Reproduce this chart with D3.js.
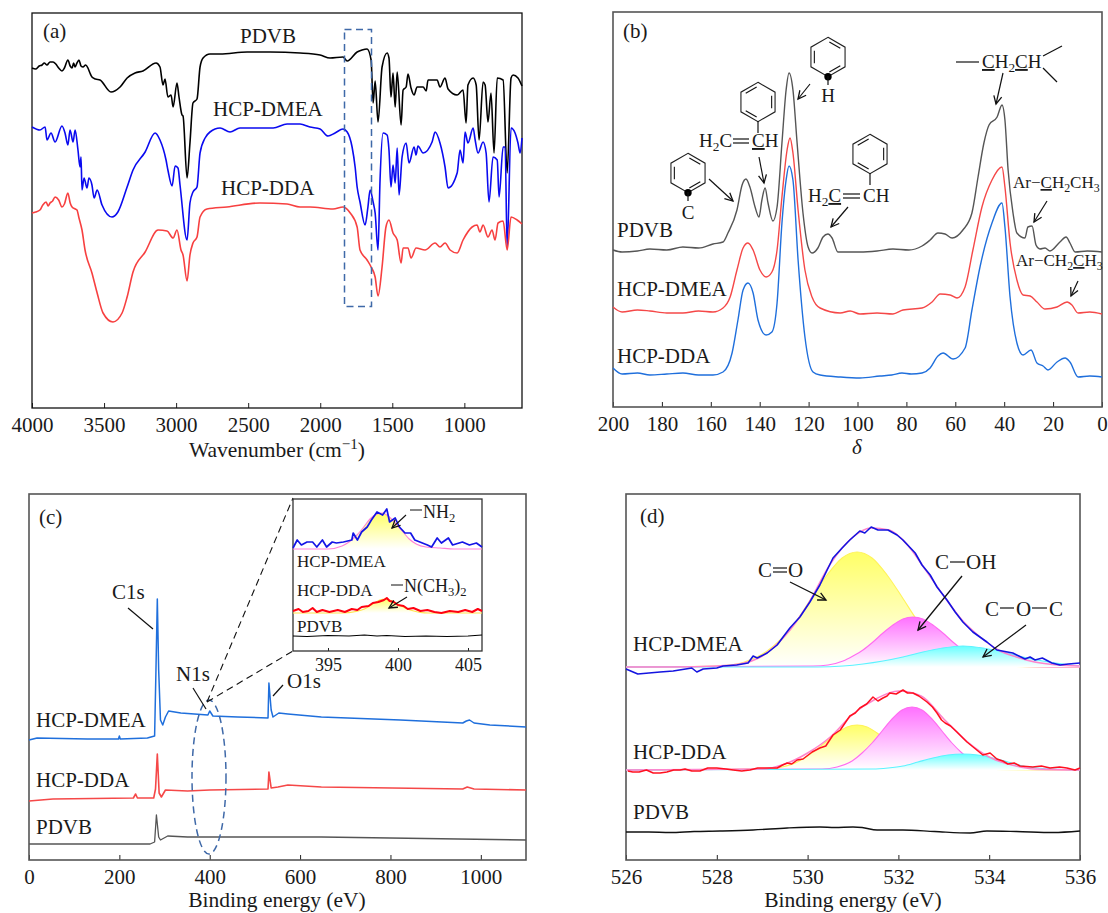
<!DOCTYPE html>
<html>
<head>
<meta charset="utf-8">
<script src="https://cdn.jsdelivr.net/npm/d3@7"></script>
<style>
html, body { margin: 0; padding: 0; background: #fff; }
svg { display: block; }
text { font-family: "Liberation Serif", serif; fill: #1a1a1a; }
</style>
</head>
<body>
<div id="chart"></div>
<script>
// (a) FTIR
const ftirPdvbX = [4000,3975,3950,3930,3915,3896,3875,3854,3835,3815,3792,3775,3751,3735,3722,3711,3701,3688,3674,3660,3646,3628,3612,3598,3584,3560,3528,3452,3389,3340,3285,3230,3139,3112,3091,3077,3057,3035,3021,2994,2980,2959,2952,2924,2904,2883,2855,2834,2813,2765,2695,2507,2348,2140,2001,1932,1842,1813,1744,1710,1675,1647,1633,1619,1599,1571,1536,1523,1509,1495,1480,1466,1439,1425,1404,1391,1370,1349,1328,1286,1265,1252,1189,1169,1134,1113,1050,1009,988,975,939,918,898,870,856,836,815,794,772,731,703,676,662,628,600];
const ftirPdvbY = [340,339,342,343,345,343,346,346,344,340,337,340,348,342,340,345,341,345,348,342,341,343,340,335,331,329,328,316,321,330,335,337,345,341,323,329,311,313,301,325,311,293,292,230,265,305,309,341,350,354,354,356,356,355,353,350,351,347,356,358,359,348,305,327,286,341,355,350,311,335,301,336,283,318,321,334,320,313,321,321,317,328,328,321,330,319,313,318,285,323,330,323,268,326,323,286,315,255,330,328,235,330,333,330,322];
const ftirDmeaX = [4000,3945,3909,3896,3868,3840,3792,3771,3751,3736,3715,3701,3681,3667,3660,3653,3639,3618,3605,3584,3569,3548,3514,3445,3404,3340,3299,3215,3146,3112,3070,3057,3028,3007,2987,2973,2924,2904,2883,2855,2834,2799,2765,2695,2626,2557,2418,2327,2230,2140,2071,2001,1946,1897,1842,1813,1779,1758,1744,1724,1689,1669,1654,1633,1619,1599,1585,1564,1536,1523,1509,1495,1480,1466,1453,1432,1404,1384,1349,1335,1322,1286,1224,1203,1169,1134,1113,1050,1030,1009,995,975,939,925,905,870,849,829,801,772,759,731,717,703,676,648,628,613,600];
const ftirDmeaY = [281,278,281,268,275,266,282,275,263,278,266,278,258,241,251,218,230,220,230,223,210,218,203,191,196,221,238,256,275,268,248,238,222,242,240,223,168,205,216,221,255,270,276,280,276,280,280,280,284,284,281,279,272,275,279,276,261,241,221,206,183,201,218,206,195,158,228,275,273,258,221,243,225,260,213,251,265,245,261,253,262,255,266,276,265,241,220,235,258,245,276,265,280,268,255,266,255,206,251,248,211,261,261,160,280,275,265,255,270];
const ftirDdaX = [4000,3975,3945,3925,3902,3888,3875,3857,3840,3815,3792,3775,3751,3735,3722,3700,3688,3674,3653,3632,3584,3548,3507,3438,3375,3340,3299,3215,3125,3063,3021,2994,2966,2952,2924,2904,2883,2855,2834,2786,2647,2418,2230,2140,2071,1911,1842,1792,1744,1724,1675,1647,1619,1599,1571,1544,1523,1495,1466,1439,1425,1391,1370,1335,1273,1203,1169,1134,1099,1050,1009,946,912,892,870,836,808,787,766,731,703,676,634,600];
const ftirDdaY = [195,196,198,203,206,202,205,207,211,208,201,204,215,205,201,199,198,190,178,158,135,115,95,86,95,111,136,156,178,177,170,178,158,153,127,153,165,171,191,199,201,205,204,201,201,199,201,195,181,158,148,141,131,112,141,181,188,175,168,145,160,160,150,160,158,165,161,165,158,155,168,181,183,176,183,171,178,168,185,187,158,191,188,184];
const ftirTicks = [4000,3500,3000,2500,2000,1500,1000];

// (b) 13C NMR
const nmrPdvbX = [200,196.3,190,184.9,178,171.4,165,159.1,155,153,149.3,147.2,145.6,144,141.9,140.3,139.1,137.8,136.6,134.6,132.9,130.9,129.2,128,126.4,124.7,122.3,120.2,118.6,116.2,114.1,112.1,110.4,108,99,92,85.5,79,73.6,70.3,67.1,64.2,61.3,56.9,53.2,50.7,48.3,46.2,42.9,40.9,39.7,38.4,36.4,34.8,31.5,30.3,28.6,27,25.4,23.3,21.3,17.2,14.7,13.1,11,6,0];
const nmrPdvbY = [157,155,156,158,157,160,159,163,165,174,197,222,228,220,200,190,207,219,204,186,200,264,317,334,317,264,194,160,154,159,170,173,169,155,155,156,158,157,161,167,174,173,169,177,194,230,264,282,290,302,287,237,194,174,169,180,181,162,158,159,156,165,170,164,155,156,155];
const nmrDmeaX = [200,196.3,190,184.9,178,171.4,165,159.1,155,152.1,149.3,146.8,144.8,142.7,139.9,137.4,135,132.9,130.9,128.8,127.6,126.4,124.3,121.5,118.6,115.3,107.1,103,99,92,85.5,81.4,73.6,69.5,66.2,62.1,59.3,56,52.8,49.1,45,40.9,39.7,37.6,34.8,32.3,29.4,26.6,23.3,18.4,14.3,12.3,9.8,5,0];
const nmrDmeaY = [100,95,97,96,94,94,96,95,99,110,137,159,164,157,137,130,135,157,210,257,269,254,197,137,110,99,94,96,93,94,93,97,99,105,113,112,109,120,157,200,227,240,220,164,127,112,111,105,98,100,105,102,94,95,93];
const nmrDdaX = [200,196.3,190,184.9,178,171.4,165,159.1,155,151.3,148.9,146.8,144.8,142.7,140.7,137.4,135,132.9,130.9,129.2,128,126.4,124.3,121.5,118.2,115.3,107.1,99,90.8,86,81.8,78,73.6,70.3,67.1,65,60.9,56,53.2,49.9,45,40.9,39.7,37.6,34.8,32.3,29,26.6,24.1,22.1,18.4,15.1,13.1,9.8,5,0];
const nmrDdaY = [39,33,34,32,33,34,32,32,35,54,87,117,124,114,87,72,75,104,184,227,241,227,147,70,35,32,30,29,31,32,34,33,34,39,51,54,48,59,97,140,184,204,180,110,64,52,57,44,41,37,45,49,45,30,31,30];
const nmrTicks = [200,180,160,140,120,100,80,60,40,20,0];

// (c) XPS survey
const surveyDmeaX = [0,18,129,198,200,202,262,278,281,284,287,291,296,302,309,336,396,400,407,462,529,531,536,540,553,573,647,822,960,968,975,985,1020,1100];
const surveyDmeaY = [119,121,120,120,123,120,121,123,189,260,189,139,134,142,148,146,144,148,143,142,141,176,149,142,146,145,142,139,136,138,139,136,134,132];
const surveyDdaX = [0,53,231,236,240,276,280,284,288,293,302,351,400,529,531,536,551,573,647,960,970,985,1100];
const surveyDdaY = [58,60,61,65,61,61,70,105,66,62,69,68,69,70,87,71,72,74,72,70,72,70,69];
const surveyPdvbX = [0,268,278,282,287,291,307,351,573,647,1100];
const surveyPdvbY = [15,15,17,44,22,19,23,22,22,22,19];
const surveyTicks = [0,200,400,600,800,1000];

// (c) inset, N1s
const n1sDmeaX = [392.5,392.8,393.1,393.5,393.9,394.2,394.6,394.9,395.3,395.6,396.1,396.7,396.8,397.1,397.4,397.8,398.1,398.5,398.9,399.2,399.4,399.8,400.1,400.5,400.9,401.2,402.1,402.4,402.8,403.1,403.6,403.9,404.6,405.1,405.6,406];
const n1sDmeaY = [103,111,106,109,109,104,111,104,109,108,109,111,118,111,119,124,131,139,136,142,129,133,124,118,118,111,106,104,113,108,113,106,109,106,108,104];
const n1sDmeaFitX = [392.5,395,396,396.5,397,397.5,398,398.5,398.9,399.3,399.8,400.3,400.8,401.3,402,403,404,406];
const n1sDmeaFitY = [102,102,105,109,115,123,132,137,138,135,128,120,112,107,104,103,102,102];
const n1sDdaX = [392.5,392.9,393.2,393.6,393.9,394.2,394.6,395.1,395.7,396.2,396.7,397.1,397.4,397.9,398.2,398.6,399,399.2,399.4,399.7,400,400.4,400.7,401.1,401.6,402.1,402.6,403.1,403.7,404.3,404.8,405.3,405.7,406];
const n1sDdaY = [40,42,39,40,43,39,41,39,41,39,42,41,44,45,48,49,51,53,50,49,46,45,42,43,40,41,39,38,40,39,41,39,42,40];
const n1sDdaFitX = [392.5,396,397,397.6,398.2,398.7,399.1,399.6,400,400.5,401,401.6,402.2,406];
const n1sDdaFitY = [38,38,39.5,42,47,51,52,50,47,43,40.5,38.5,38,38];
const n1sPdvbX = [392.5,393.5,395,396.5,397.6,398.5,399.2,400.5,402,403.5,405,406];
const n1sPdvbY = [15,14.5,15.5,15,16,15,15.5,14.5,15,14.5,15,16];
const n1sTicks = [395,400,405];

// (d) O1s
const o1sDmeaX = [526,526.26,526.75,527.04,527.45,527.56,527.7,528,528.14,528.44,528.69,528.8,528.89,529.11,529.33,529.46,529.61,529.83,530.05,530.27,530.43,530.56,530.76,530.93,531.15,531.26,531.4,531.55,531.77,531.97,532.1,532.37,532.52,532.7,532.85,533.07,533.25,533.42,533.64,533.95,534.17,534.52,534.79,534.9,535.01,535.17,535.38,535.56,535.74,536];
const o1sDmeaY = [190,185,187,188,191,187,190,191,193,194,196,203,201,206,214,222,231,242,257,274,289,301,311,319,328,326,332,329,329,324,319,306,294,284,272,259,247,237,227,217,209,206,200,202,199,201,196,194,195,196];
const o1sDmeaFitX = [526,527,528,528.5,529,529.5,530,530.5,531,531.4,531.8,532.2,532.6,533,533.4,533.8,534.2,534.6,535,535.5,536];
const o1sDmeaFitY = [192,192,193,195,203,223,254,295,322,331,329,314,289,263,239,222,209,202,197,194,193];
const o1sDmeaCoX = [526,528,528.45,528.78,529.11,529.44,529.77,530.1,530.43,530.76,531.09,531.42,531.75,532.08,532.41,532.74,533.07,533.4,533.73,534.18,536];
const o1sDmeaCoY = [192,193,195,200,208,221,239,262,284,301,307,301,284,262,239,221,208,200,195,193,192];
const o1sDmeaCohX = [526,530.12,530.45,530.78,531,531.22,531.44,531.66,531.88,532.1,532.32,532.54,532.76,532.98,533.2,533.42,533.64,533.86,534.19,534.52,536];
const o1sDmeaCohY = [192,193,194,198,203,209,217,226,234,240,242,240,234,226,217,209,203,198,194,193,192];
const o1sDmeaCocX = [526,530.23,530.78,531.22,531.66,532.1,532.54,532.98,533.42,533.86,534.3,534.74,535.18,535.62,536];
const o1sDmeaCocY = [192,192,193,195,198,202,207,211,213,211,207,202,198,195,193];

const o1sDdaX = [526.04,526.15,526.29,526.45,526.6,526.75,526.9,527.05,527.19,527.3,527.45,527.63,527.8,528,528.2,528.36,528.55,528.73,528.9,529.11,529.33,529.45,529.55,529.65,529.77,529.9,530.1,530.27,530.4,530.56,530.72,530.93,531.05,531.15,531.3,531.44,531.55,531.66,531.75,531.81,531.95,532.1,532.2,532.32,532.45,532.63,532.75,532.85,532.95,533.03,533.15,533.29,533.4,533.51,533.7,533.86,534.02,534.17,534.3,534.41,534.55,534.68,534.96,535.15,535.34,535.55,535.71,535.89,536];
const o1sDdaY = [88,87,87,89,86,86,87,89,89,90,88,88,91,91,90,89,88,89,91,91,91,94,96,95,99,100,107,111,113,124,129,143,146,151,155,162,158,161,163,166,165,169,166,166,163,157,152,146,139,136,133,127,122,117,110,104,106,100,98,95,96,93,92,93,91,92,91,89,91];
const o1sDdaFitX = [526,529,529.5,530,530.5,531,531.5,532,532.5,533,533.5,534,534.5,535,536];
const o1sDdaFitY = [89,90,95,106,122,145,160,168,163,140,118,102,94,90,89];
const o1sDdaCoX = [526,529.11,529.44,529.77,529.99,530.21,530.43,530.65,530.87,531.09,531.31,531.53,531.75,531.97,532.19,532.41,532.74,533.07,536];
const o1sDdaCoY = [89,90,92,97,103,110,118,126,132,134,132,126,118,110,103,97,92,90,89];
const o1sDdaCohX = [526,530.32,530.65,530.98,531.2,531.42,531.64,531.86,532.08,532.3,532.52,532.74,532.96,533.18,533.4,533.62,533.95,534.28,536];
const o1sDdaCohY = [89,90,92,98,106,116,128,140,149,152,149,140,128,116,106,98,92,90,89];
const o1sDdaCocX = [526,531.44,531.77,532.1,532.43,532.76,533.09,533.42,533.75,534.08,534.41,534.74,535.07,535.4,536];
const o1sDdaCocY = [89,90,91,93,97,101,104,105,104,101,97,93,91,90,89];

const o1sPdvbX = [526,526.5,526.97,527.5,528.07,528.8,529.55,530.27,530.6,531,531.2,531.53,532.1,532.8,533.58,533.95,534.6,535.41,536];
const o1sPdvbY = [27,27,26.5,27.5,28,29,31,32,31.5,32,31.5,29,29,27.5,26,28,27.5,26.5,28];
const o1sTicks = [526,528,530,532,534,536];

const svg = d3.select('#chart').append('svg').attr('width', 1108).attr('height', 913);
const defs = svg.append('defs');

defs.append('marker').attr('id', 'head').attr('markerUnits', 'userSpaceOnUse')
  .attr('viewBox', '-10 -6 12 12').attr('refX', 0).attr('refY', 0)
  .attr('markerWidth', 12).attr('markerHeight', 12).attr('orient', 'auto')
  .append('path').attr('d', 'M-8,-4 L0,0 L-8,4').attr('fill', 'none').attr('stroke', '#111').attr('stroke-width', 1.3);

function gradient(id, color) {
  let g = defs.append('linearGradient').attr('id', id).attr('x1', 0).attr('y1', 0).attr('x2', 0).attr('y2', 1);
  g.append('stop').attr('offset', '0%').attr('stop-color', color);
  g.append('stop').attr('offset', '100%').attr('stop-color', '#fff');
}
gradient('gYellow', '#ffff66');
gradient('gMagenta', '#ff70ff');
gradient('gCyan', '#66ffff');

function frame(x, y, tickVals, size, pad, tick, color, width) {
  let [l, r] = x.range(), [b, t] = y.range();
  let g = svg.append('g').attr('transform', `translate(0,${b})`)
    .call(d3.axisBottom(x).tickValues(tickVals).tickSizeInner(-tick).tickSizeOuter(0).tickPadding(pad).tickFormat(d3.format('d')));
  g.select('.domain').remove();
  g.selectAll('line').attr('stroke', '#222').attr('stroke-width', 1);
  g.selectAll('text').attr('font-size', size).attr('font-family', '"Liberation Serif", serif').attr('fill', '#1a1a1a');
  svg.append('rect').attr('x', l).attr('y', t).attr('width', r - l).attr('height', b - t)
    .attr('fill', 'none').attr('stroke', color).attr('stroke-width', width);
}

function curve(x, y, xs, ys, color, width, kind) {
  let line = d3.line().x(i => x(xs[i])).y(i => y(ys[i])).curve(kind || d3.curveLinear);
  svg.append('path').attr('d', line(d3.range(xs.length)))
    .attr('fill', 'none').attr('stroke', color).attr('stroke-width', width).attr('stroke-linejoin', 'round');
}

function hump(x, y, xs, ys, base, fill, color, kind) {
  let area = d3.area().x(i => x(xs[i])).y0(y(base)).y1(i => y(ys[i])).curve(kind || d3.curveMonotoneX);
  let top = d3.line().x(i => x(xs[i])).y(i => y(ys[i])).curve(kind || d3.curveMonotoneX);
  svg.append('path').attr('d', area(d3.range(xs.length))).attr('fill', `url(#${fill})`);
  svg.append('path').attr('d', top(d3.range(xs.length))).attr('fill', 'none').attr('stroke', color).attr('stroke-width', 1.1);
}

function label(x, y, parts, size, anchor, style) {
  let t = svg.append('text').attr('x', x).attr('y', y).attr('font-size', size)
    .attr('text-anchor', anchor || 'start').attr('font-style', style || null);
  [].concat(parts).forEach(p => {
    if (typeof p === 'string') { t.append('tspan').text(p); return; }
    let s = t.append('tspan').text(p.t);
    if (p.u) s.attr('text-decoration', 'underline');
    if (p.sub) s.attr('font-size', size * 0.7).attr('dy', size * 0.22);
    if (p.sup) s.attr('font-size', size * 0.7).attr('dy', -size * 0.36);
    if (p.back) s.attr('dy', p.back);
  });
  return t;
}

function rule(x1, y1, x2, y2, width, arrow) {
  let l = svg.append('line').attr('x1', x1).attr('y1', y1).attr('x2', x2).attr('y2', y2)
    .attr('stroke', '#111').attr('stroke-width', width || 1.2);
  if (arrow) l.attr('marker-end', 'url(#head)');
  return l;
}

// benzene ring, pointy top; kind 0 keeps inner bonds on the left side, 1 on the right
function ring(cx, cy, r, kind, dot) {
  let v = d3.range(6).map(i => [cx + r * Math.sin(i * Math.PI / 3), cy - r * Math.cos(i * Math.PI / 3)]);
  svg.append('path').attr('d', d3.line()(v) + 'Z').attr('fill', 'none').attr('stroke', '#222').attr('stroke-width', 1.1);
  let edges = kind === 0 ? [[4, 5], [0, 1], [2, 3]] : [[1, 2], [3, 4], [5, 0]];
  edges.forEach(([a, b]) => {
    let p = v[a].map((d, k) => [cx, cy][k] + (d - [cx, cy][k]) * 0.8);
    let q = v[b].map((d, k) => [cx, cy][k] + (d - [cx, cy][k]) * 0.8);
    let m = (p[0] + q[0]) / 2, n = (p[1] + q[1]) / 2;
    rule(m + (p[0] - m) * 0.8, n + (p[1] - n) * 0.8, m + (q[0] - m) * 0.8, n + (q[1] - n) * 0.8, 1.1);
  });
  if (dot) svg.append('circle').attr('cx', v[3][0]).attr('cy', v[3][1]).attr('r', 3.7).attr('fill', '#000');
}

function dashed(sel) {
  return sel.attr('fill', 'none').attr('stroke', '#3f69a8').attr('stroke-width', 1.5).attr('stroke-dasharray', '7,4.5');
}

// ---- panel a
const xA = d3.scaleLinear().domain([4000, 600]).range([32, 522]);
const yA = d3.scaleLinear().domain([0, 395]).range([408, 13]);
frame(xA, yA, ftirTicks, 21, 9, 5, '#111', 1.3);
curve(xA, yA, ftirPdvbX, ftirPdvbY, '#000', 1.6, d3.curveMonotoneX);
curve(xA, yA, ftirDmeaX, ftirDmeaY, '#0a0af0', 1.6, d3.curveMonotoneX);
curve(xA, yA, ftirDdaX, ftirDdaY, '#f74040', 1.6, d3.curveMonotoneX);
dashed(svg.append('rect').attr('x', 344.5).attr('y', 29.5).attr('width', 27).attr('height', 277));
label(43, 38, '(a)', 21);
label(240, 43, 'PDVB', 21);
label(213, 116, 'HCP-DMEA', 21);
label(221, 195, 'HCP-DDA', 21);
label(277, 457, ['Wavenumber (cm', { t: '\u22121', sup: true }, { t: ')', back: 7.5 }], 21.5, 'middle');

// ---- panel b
const xB = d3.scaleLinear().domain([200, 0]).range([613, 1102]);
const yB = d3.scaleLinear().domain([0, 395]).range([407, 12]);
frame(xB, yB, nmrTicks, 21, 9, 5, '#555', 1.6);
curve(xB, yB, nmrPdvbX, nmrPdvbY, '#555', 1.4, d3.curveMonotoneX);
curve(xB, yB, nmrDmeaX, nmrDmeaY, '#f54848', 1.4, d3.curveMonotoneX);
curve(xB, yB, nmrDdaX, nmrDdaY, '#1f6fdc', 1.4, d3.curveMonotoneX);
label(623, 38, '(b)', 21);
label(617, 237, 'PDVB', 21);
label(617, 296, 'HCP-DMEA', 21);
label(617, 363, 'HCP-DDA', 21);
label(857, 454, '\u03b4', 21, 'middle', 'italic');

ring(688, 173, 19.7, 0, true);
rule(688, 192, 688, 201);
label(688, 219, 'C', 19, 'middle');
rule(709, 179, 733, 201, 1.2, true);

ring(758, 102, 19.7, 1, false);
rule(758, 121, 758, 133);
label(699, 147, ['H', { t: '2', sub: true }, { t: 'C', back: -4.2 }], 19);
rule(733, 139, 749, 139); rule(733, 143, 749, 143);
label(752, 147, [{ t: 'C', u: true }, 'H'], 19);
rule(759, 157, 764, 183, 1.2, true);

ring(828, 57, 19.7, 0, true);
rule(828, 76, 828, 85);
label(828, 102, 'H', 19, 'middle');
rule(810, 84, 798, 99, 1.2, true);

ring(870, 154, 19.7, 1, false);
rule(870, 173, 870, 185);
label(808, 202, ['H', { t: '2', sub: true }, { t: 'C', u: true, back: -4.2 }], 19);
rule(843, 194, 860, 194); rule(843, 198, 860, 198);
label(863, 202, 'CH', 19);
rule(848, 207, 831, 227, 1.2, true);

rule(956, 62, 979, 62);
label(982, 68, [{ t: 'C', u: true }, 'H', { t: '2', sub: true }, { t: 'C', u: true, back: -4.2 }, 'H'], 19);
rule(1043, 56, 1062, 46); rule(1043, 68, 1057, 82);
rule(1003, 73, 996, 104, 1.2, true);

label(1013, 188, ['Ar\u2212', { t: 'C', u: true }, 'H', { t: '2', sub: true }, { t: 'CH', back: -3.7 }, { t: '3', sub: true }], 17);
rule(1047, 201, 1034, 222, 1.2, true);
label(1016, 266, ['Ar\u2212CH', { t: '2', sub: true }, { t: 'C', u: true, back: -3.7 }, 'H', { t: '3', sub: true }], 17);
rule(1078, 281, 1071, 296, 1.2, true);

// ---- panel c
const xC = d3.scaleLinear().domain([0, 1100]).range([29, 526]);
const yC = d3.scaleLinear().domain([-1, 365]).range([860, 494]);
frame(xC, yC, surveyTicks, 21, 9, 5, '#555', 1.6);
curve(xC, yC, surveyDmeaX, surveyDmeaY, '#1f6fdc', 1.5);
curve(xC, yC, surveyDdaX, surveyDdaY, '#f54848', 1.6);
curve(xC, yC, surveyPdvbX, surveyPdvbY, '#555', 1.3);
dashed(svg.append('ellipse').attr('cx', 209).attr('cy', 777).attr('rx', 17).attr('ry', 77));
[[293, 498], [293, 651]].forEach(([tx, ty]) => {
  rule(207, 702, tx, ty, 1.1).attr('stroke-dasharray', '7,4.5');
});
label(39, 524, '(c)', 21);
label(36, 727, 'HCP-DMEA', 21);
label(36, 787, 'HCP-DDA', 21);
label(36, 834, 'PDVB', 21);
label(112, 599, 'C1s', 21);
rule(128, 608, 153, 629);
label(176, 681, 'N1s', 21);
rule(193, 688, 206, 709);
label(287, 688, 'O1s', 21);
rule(283, 685, 273, 696);
label(277, 907, 'Binding energy (eV)', 21.5, 'middle');

// inset
const xI = d3.scaleLinear().domain([392.5, 406]).range([293, 482]);
const yI = d3.scaleLinear().domain([0, 152]).range([651, 499]);
svg.append('rect').attr('x', 293).attr('y', 499).attr('width', 189).attr('height', 152).attr('fill', '#fff');
frame(xI, yI, n1sTicks, 18, 7, 3, '#333', 1.3);
hump(xI, yI, n1sDmeaFitX, n1sDmeaFitY, 102, 'gYellow', '#ff80d8');
curve(xI, yI, n1sDmeaX, n1sDmeaY, '#1414e6', 1.7);
hump(xI, yI, n1sDdaFitX, n1sDdaFitY, 38, 'gYellow', '#ffe24a');
curve(xI, yI, n1sDdaX, n1sDdaY, '#ff0010', 2);
curve(xI, yI, n1sPdvbX, n1sPdvbY, '#000', 1.1);
label(297, 567, 'HCP-DMEA', 17);
label(297, 596, 'HCP-DDA', 17);
label(297, 632, 'PDVB', 17);
rule(410, 510, 422, 510, 1);
label(423, 518, ['NH', { t: '2', sub: true }], 18);
rule(406, 515, 392, 528, 1.1, true);
rule(391, 585, 403, 585, 1);
label(404, 592, ['N(CH', { t: '3', sub: true }, { t: ')', back: -3.9 }, { t: '2', sub: true }], 18);
rule(407, 597, 389, 608, 1.1, true);

// ---- panel d
const xD = d3.scaleLinear().domain([526, 536]).range([626, 1080]);
const yD = d3.scaleLinear().domain([-1, 365]).range([860, 494]);
frame(xD, yD, o1sTicks, 21, 9, 5, '#555', 1.6);
hump(xD, yD, o1sDmeaCoX, o1sDmeaCoY, 192, 'gYellow', '#fff35a');
hump(xD, yD, o1sDmeaCohX, o1sDmeaCohY, 192, 'gMagenta', '#ff6cf0');
hump(xD, yD, o1sDmeaCocX, o1sDmeaCocY, 192, 'gCyan', '#5cf2ff');
curve(xD, yD, o1sDmeaFitX, o1sDmeaFitY, '#ff84cc', 1.6, d3.curveMonotoneX);
curve(xD, yD, o1sDmeaX, o1sDmeaY, '#1414e0', 1.6);
hump(xD, yD, o1sDdaCoX, o1sDdaCoY, 89, 'gYellow', '#fff35a');
hump(xD, yD, o1sDdaCohX, o1sDdaCohY, 89, 'gMagenta', '#ff6cf0');
hump(xD, yD, o1sDdaCocX, o1sDdaCocY, 89, 'gCyan', '#5cf2ff');
curve(xD, yD, o1sDdaFitX, o1sDdaFitY, '#ff84cc', 1.6, d3.curveMonotoneX);
curve(xD, yD, o1sDdaX, o1sDdaY, '#ff1020', 1.5);
curve(xD, yD, o1sPdvbX, o1sPdvbY, '#111', 1.4, d3.curveMonotoneX);
label(640, 523, '(d)', 21);
label(633, 651, 'HCP-DMEA', 21);
label(633, 759, 'HCP-DDA', 21);
label(633, 819, 'PDVB', 21);
label(758, 577, 'C', 21);
rule(773, 568, 787, 568); rule(773, 572, 787, 572);
label(788, 577, 'O', 21);
rule(790, 582, 826, 600, 1.3, true);
label(935, 569, 'C', 21);
rule(950, 562, 965, 562);
label(966, 569, 'OH', 21);
rule(962, 576, 918, 630, 1.3, true);
label(985, 616, 'C', 21);
rule(1000, 608, 1014, 608);
label(1016, 616, 'O', 21);
rule(1032, 608, 1047, 608);
label(1049, 616, 'C', 21);
rule(1026, 625, 983, 657, 1.3, true);
label(853, 907, 'Binding energy (eV)', 21.5, 'middle');
</script>
</body>
</html>
